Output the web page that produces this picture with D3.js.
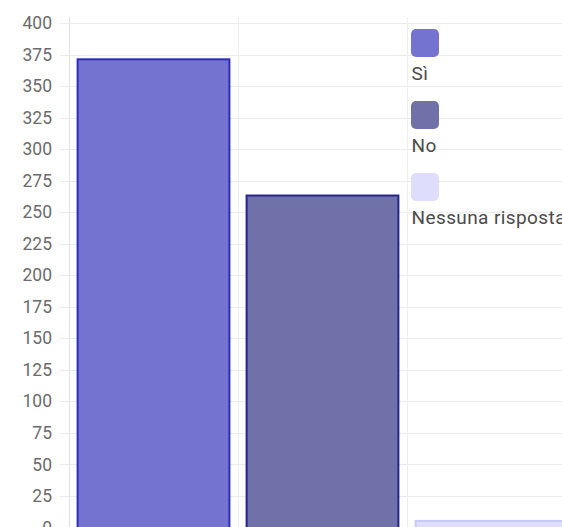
<!DOCTYPE html>
<html>
<head>
<meta charset="utf-8">
<script src="https://cdn.jsdelivr.net/npm/d3@7"></script>
<style>
  html, body { margin: 0; padding: 0; background: #fff; overflow: hidden; }
  svg { display: block; font-family: Roboto, "Liberation Sans", sans-serif; }
</style>
</head>
<body>
<svg id="chart" width="562" height="527"></svg>
<script>
const categories = ["Sì", "No", "Nessuna risposta"];
const values = [372, 264, 6];
const fillColors = ["#7474d0", "#7171aa", "#dedefc"];
const borderColors = ["#2b2bbd", "#24248a", "#c9c9f6"];
const yTicks = [0, 25, 50, 75, 100, 125, 150, 175, 200, 225, 250, 275, 300, 325, 350, 375, 400];

(function () {
const svg = d3.select("#chart");
const padLeft = 69, padTop = 23, padBottom = 527.5;
const x = d3.scaleBand().domain(categories).range([padLeft, padLeft + 169 * 3]).padding(0);
const y = d3.scaleLinear().domain([0, 400]).range([padBottom, padTop]);

// horizontal grid
svg.append("g").selectAll("line").data(yTicks).join("line")
  .attr("x1", padLeft - 9).attr("x2", 562)
  .attr("y1", d => Math.round(y(d)) + 0.5).attr("y2", d => Math.round(y(d)) + 0.5)
  .attr("stroke", "#ececec").attr("stroke-width", 1);

// vertical grid (category boundaries)
const bounds = categories.map(c => x(c)).concat([x(categories[2]) + x.bandwidth()]);
svg.append("g").selectAll("line").data(bounds).join("line")
  .attr("x1", d => Math.round(d) + 0.5).attr("x2", d => Math.round(d) + 0.5)
  .attr("y1", 17).attr("y2", 540)
  .attr("stroke", (d, i) => i === 0 ? "#e2e2e2" : "#efefef").attr("stroke-width", 1);

// y axis labels
const yAxis = d3.axisLeft(y).tickValues(yTicks).tickSize(0).tickPadding(17);
const ga = svg.append("g").attr("transform", `translate(${padLeft},0)`).call(yAxis);
ga.select(".domain").remove();
ga.selectAll("text").attr("font-size", 17.5).attr("fill", "#6b6b6b")
  .attr("font-family", "Roboto, sans-serif");

// bars
const bw = x.bandwidth() * 0.91;
svg.append("g").selectAll("rect").data(values).join("rect")
  .attr("x", (d, i) => x(categories[i]) + (x.bandwidth() - bw) / 2 + 1)
  .attr("y", d => y(d) + 1)
  .attr("width", bw - 2)
  .attr("height", d => padBottom - y(d) + 10)
  .attr("fill", (d, i) => fillColors[i])
  .attr("stroke", (d, i) => borderColors[i])
  .attr("stroke-width", 2);

// legend
const lg = svg.append("g").attr("transform", "translate(411,29)");
const item = lg.selectAll("g").data(categories).join("g")
  .attr("transform", (d, i) => `translate(0,${i * 72})`);
item.append("rect").attr("width", 28).attr("height", 28).attr("rx", 5)
  .attr("fill", (d, i) => fillColors[i]);
item.append("text").attr("x", 0.5).attr("y", 50.5).text(d => d)
  .attr("font-size", 19).attr("letter-spacing", 0.4).attr("fill", "#4a4a4a");
})();
</script>
</body>
</html>
